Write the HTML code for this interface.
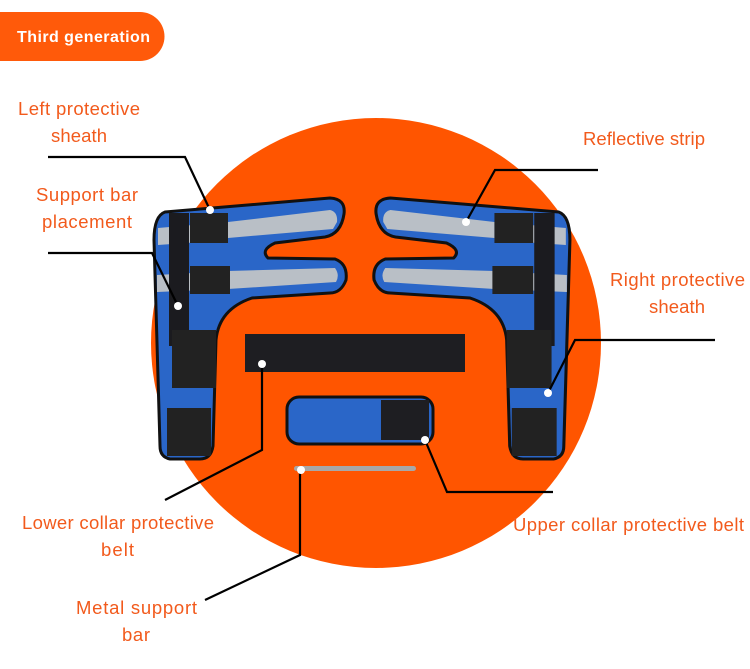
<!DOCTYPE html>
<html><head><meta charset="utf-8"><style>
html,body{margin:0;padding:0;background:#fff;}
svg{display:block;}
text{font-family:"Liberation Sans",sans-serif;}
</style></head><body>
<svg width="750" height="669" viewBox="0 0 750 669" xmlns="http://www.w3.org/2000/svg">
<rect width="750" height="669" fill="#fff"/>
<path d="M0,12 H140 A24.5,24.5 0 0 1 140,61 H0 Z" fill="#ff5a0a"/>
<text x="17" y="42" font-size="16" font-weight="bold" fill="#fff" textLength="133">Third generation</text>
<circle cx="376" cy="343" r="225" fill="#ff5500"/>
<defs>
<g id="sheath">
<path d="M165,212 L330,198 Q346,199 344,214 Q341,234 325,237 L275,243 Q260,250 268,258 L335,259 Q348,264 346,280 Q341,293 330,293 L252,298 Q219,309 216,340 L213,446 Q211,459 200,459 L170,459 Q160,457 160,446 L154,240 Q154,216 165,212 Z" fill="#2a66c8" stroke="#111" stroke-width="3"/>
<path d="M228,222 L330,210 Q338,212 337,222 L333,229 L228,238 Z" fill="#b9bfc6"/>
<path d="M228,271 L335,268 Q340,275 336,282 L228,289 Z" fill="#b9bfc6"/>
<path d="M158,228 L228,222 L228,240 L158,245 Z" fill="#b9bfc6"/>
<path d="M157,275 L228,271 L228,289 L157,292 Z" fill="#b9bfc6"/>
<rect x="169" y="213" width="20" height="133" fill="#1b1b1f"/>
<rect x="190" y="213" width="38" height="30" fill="#222"/>
<rect x="190" y="266" width="40" height="28" fill="#222"/>
<rect x="172" y="330" width="44" height="58" fill="#222"/>
<rect x="167" y="408" width="44" height="48" fill="#222"/>
</g>
</defs>
<use href="#sheath"/>
<use href="#sheath" transform="translate(727,0) scale(-1.02,1)"/>
<rect x="245" y="334" width="220" height="38" fill="#1e1e22"/>
<rect x="287" y="397" width="146" height="47" rx="12" fill="#2a66c8" stroke="#111" stroke-width="3"/>
<rect x="381" y="400" width="48" height="40" fill="#1e1e22"/>
<rect x="294" y="466" width="122" height="5" rx="2.5" fill="#a8a8a8"/>
<g stroke="#000" stroke-width="2.2" fill="none">
<polyline points="48,157 185,157 210,210"/>
<polyline points="48,253 152,253 178,306"/>
<polyline points="598,170 495,170 466,222"/>
<polyline points="715,340 575,340 548,393"/>
<polyline points="262,364 262,450 165,500"/>
<polyline points="425,440 447,492 553,492"/>
<polyline points="300,470 300,555 205,600"/>
</g>
<g fill="#fff">
<circle cx="210" cy="210" r="4"/><circle cx="178" cy="306" r="4"/><circle cx="466" cy="222" r="4"/>
<circle cx="548" cy="393" r="4"/><circle cx="262" cy="364" r="4"/><circle cx="425" cy="440" r="4"/><circle cx="301" cy="470" r="4"/>
</g>
<g font-size="18.5" fill="#f25a1c">
<text x="18" y="115" textLength="122">Left protective</text><text x="51" y="142" textLength="56">sheath</text>
<text x="36" y="201" textLength="102">Support bar</text><text x="42" y="228" textLength="90">placement</text>
<text x="583" y="145" textLength="122">Reflective strip</text>
<text x="610" y="286" textLength="135">Right protective</text><text x="649" y="313" textLength="56">sheath</text>
<text x="22" y="529" textLength="192">Lower collar protective</text><text x="101" y="556" textLength="33">belt</text>
<text x="513" y="531" textLength="231">Upper collar protective belt</text>
<text x="76" y="614" textLength="121">Metal support</text><text x="122" y="641" textLength="28">bar</text>
</g>
</svg>
</body></html>
